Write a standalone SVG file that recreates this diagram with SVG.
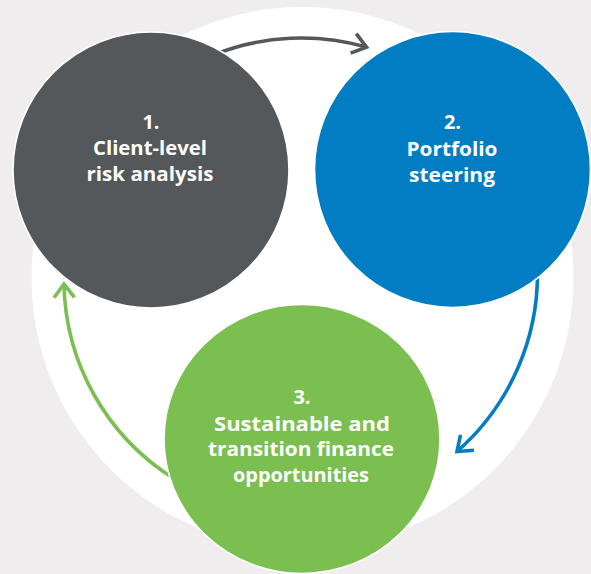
<svg xmlns="http://www.w3.org/2000/svg" width="591" height="574" viewBox="0 0 591 574">
  <defs>
    <style>
      .node-label { font-family: "Open Sans", Lato, "Liberation Sans", sans-serif; font-weight: 700; font-size: 20px; fill: #ffffff; text-anchor: middle; }
      .ring { stroke: #ffffff; stroke-width: 1.6; }
      .conn { fill: none; stroke-width: 3.6; }
    </style>
    <marker id="head-gray" markerUnits="userSpaceOnUse" viewBox="-16 -14 20 28" refX="0" refY="0" markerWidth="20" markerHeight="28" orient="auto" overflow="visible">
      <path d="M-13.6,-10.2 L0,0 L-13.6,10.2" fill="none" stroke="#54585b" stroke-width="3.6" stroke-linejoin="miter"/>
    </marker>
    <marker id="head-blue" markerUnits="userSpaceOnUse" viewBox="-16 -14 20 28" refX="0" refY="0" markerWidth="20" markerHeight="28" orient="auto" overflow="visible">
      <path d="M-13.6,-10.2 L0,0 L-13.6,10.2" fill="none" stroke="#007dc3" stroke-width="3.6" stroke-linejoin="miter"/>
    </marker>
    <marker id="head-green" markerUnits="userSpaceOnUse" viewBox="-16 -14 20 28" refX="0" refY="0" markerWidth="20" markerHeight="28" orient="auto" overflow="visible">
      <path d="M-13.6,-10.2 L0,0 L-13.6,10.2" fill="none" stroke="#7abf50" stroke-width="3.6" stroke-linejoin="miter"/>
    </marker>
  </defs>

  <rect x="0" y="0" width="591" height="574" fill="#efeded"/>
  <circle id="backdrop" cx="302.5" cy="278" r="271" fill="#ffffff"/>

  <g id="connectors">
    <path class="conn" stroke="#54585b" d="M215,54.4 A236,236 0 0 1 366.5,47.1" marker-end="url(#head-gray)"/>
    <path class="conn" stroke="#007dc3" d="M537.3,265 A236,236 0 0 1 457,451.5" marker-end="url(#head-blue)"/>
    <path class="conn" stroke="#7abf50" d="M173.5,478.3 A234.5,234.5 0 0 1 64,284" marker-end="url(#head-green)"/>
  </g>

  <g id="node1">
    <circle class="ring" cx="151" cy="170" r="138" fill="#54585b"/>
    <text class="node-label" x="151" y="128.5">1.</text>
    <text class="node-label" x="150" y="154.5" textLength="114" lengthAdjust="spacingAndGlyphs">Client-level</text>
    <text class="node-label" x="150" y="180.5" textLength="127" lengthAdjust="spacingAndGlyphs">risk analysis</text>
  </g>

  <g id="node2">
    <circle class="ring" cx="452.5" cy="169.5" r="138" fill="#007dc3"/>
    <text class="node-label" x="452.5" y="128.5">2.</text>
    <text class="node-label" x="452" y="155.5" textLength="91" lengthAdjust="spacingAndGlyphs">Portfolio</text>
    <text class="node-label" x="452" y="181.5" textLength="86" lengthAdjust="spacingAndGlyphs">steering</text>
  </g>

  <g id="node3">
    <ellipse class="ring" cx="302" cy="439" rx="138" ry="134.5" fill="#7abf50"/>
    <text class="node-label" x="302" y="404">3.</text>
    <text class="node-label" x="302" y="430.5" textLength="176" lengthAdjust="spacingAndGlyphs">Sustainable and</text>
    <text class="node-label" x="301" y="456" textLength="186" lengthAdjust="spacingAndGlyphs">transition finance</text>
    <text class="node-label" x="301" y="481.5" textLength="136" lengthAdjust="spacingAndGlyphs">opportunities</text>
  </g>
</svg>
